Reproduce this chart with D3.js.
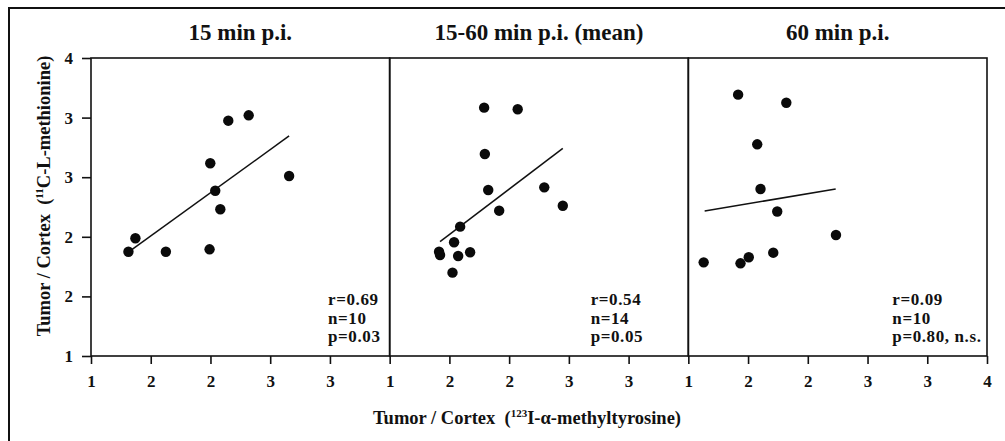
<!DOCTYPE html>
<html><head><meta charset="utf-8">
<script src="https://cdn.jsdelivr.net/npm/d3@7/dist/d3.min.js"></script>
<style>
body{margin:0;background:#fff}
svg{display:block}
text{font-family:"Liberation Serif","Times New Roman",serif;font-weight:bold;fill:#111}
</style>
</head><body><script>
// ---- data ----
const panelTitles = ["15 min p.i.", "15-60 min p.i. (mean)", "60 min p.i."];

const p1X = [1.376, 1.446, 1.752, 2.191, 2.248, 2.299, 2.198, 2.379, 2.584, 2.990];
const p1Y = [2.050, 2.185, 2.050, 2.074, 2.664, 2.477, 2.940, 3.369, 3.423, 2.812];

const p2X = [1.949, 2.286, 1.956, 1.990, 2.553, 2.739, 2.100, 1.708, 1.647, 1.496, 1.506, 1.688, 1.808, 1.631];
const p2Y = [3.500, 3.484, 3.034, 2.671, 2.698, 2.513, 2.463, 2.302, 2.145, 2.050, 2.017, 2.007, 2.044, 1.839];

const p3X = [1.500, 1.984, 1.692, 1.725, 1.893, 2.483, 1.853, 1.607, 1.524, 1.154];
const p3Y = [3.631, 3.550, 3.131, 2.681, 2.455, 2.218, 2.040, 1.994, 1.933, 1.943];

const fit1X = [1.41, 2.99], fit1Y = [2.07, 3.215];
const fit2X = [1.506, 2.739], fit2Y = [2.151, 3.091];
const fit3X = [1.164, 2.480], fit3Y = [2.460, 2.681];

const xTicks = [1, 1.6, 2.2, 2.8, 3.4];
const xTicksLast = [1, 1.6, 2.2, 2.8, 3.4, 4];
const yTicks = [1, 1.6, 2.2, 2.8, 3.4, 4];

const statR = ["r=0.69", "r=0.54", "r=0.09"];
const statN = ["n=10", "n=14", "n=10"];
const statP = ["p=0.03", "p=0.05", "p=0.80, n.s."];

// ---- layout ----
const W = 1005, H = 441;
const plotL = 91, plotR = 987, plotT = 58, plotB = 356;
const pw = (plotR - plotL) / 3;
const statOffset = [237, 201, 204];

const svg = d3.select("body").append("svg").attr("width", W).attr("height", H);

// outer frame
svg.append("rect").attr("x", 9).attr("y", 8).attr("width", 1100).attr("height", 600)
  .attr("fill", "none").attr("stroke", "#111").attr("stroke-width", 2);

const y = d3.scaleLinear().domain([1, 4]).range([plotB, plotT]);
const fmt = d3.format(".0f");

const panels = [
  {xs: p1X, ys: p1Y, fx: fit1X, fy: fit1Y},
  {xs: p2X, ys: p2Y, fx: fit2X, fy: fit2Y},
  {xs: p3X, ys: p3Y, fx: fit3X, fy: fit3Y}
];

// y axis
const yAxis = svg.append("g").attr("transform", `translate(${plotL},0)`)
  .call(d3.axisLeft(y).tickValues(yTicks).tickFormat(fmt).tickSizeInner(9).tickSizeOuter(0).tickPadding(9));
yAxis.select(".domain").remove();
yAxis.selectAll("line").attr("stroke", "#111").attr("stroke-width", 1.6);
yAxis.selectAll("text").style("font-size", "17px").style("font-family", '"Liberation Serif",serif').style("font-weight", "bold").attr("fill", "#111");

panels.forEach((p, i) => {
  const x0 = plotL + i * pw;
  const x = d3.scaleLinear().domain([1, 4]).range([x0, x0 + pw]);
  const g = svg.append("g");

  // frame
  g.append("rect").attr("x", x0).attr("y", plotT).attr("width", pw).attr("height", plotB - plotT)
    .attr("fill", "none").attr("stroke", "#111").attr("stroke-width", 1.6);

  // x axis
  const xa = g.append("g").attr("transform", `translate(0,${plotB})`)
    .call(d3.axisBottom(x).tickValues(i === 2 ? xTicksLast : xTicks).tickFormat(fmt)
      .tickSizeInner(8).tickSizeOuter(0).tickPadding(11));
  xa.select(".domain").remove();
  xa.selectAll("line").attr("stroke", "#111").attr("stroke-width", 1.6);
  xa.selectAll("text").style("font-size", "17px").style("font-family", '"Liberation Serif",serif').style("font-weight", "bold").attr("fill", "#111");

  // title
  g.append("text").attr("x", x0 + pw / 2).attr("y", 40).attr("text-anchor", "middle")
    .style("font-size", "23px").text(panelTitles[i]);

  // fit line
  g.append("line").attr("x1", x(p.fx[0])).attr("y1", y(p.fy[0]))
    .attr("x2", x(p.fx[1])).attr("y2", y(p.fy[1]))
    .attr("stroke", "#111").attr("stroke-width", 1.5);

  // points
  g.selectAll("circle").data(d3.range(p.xs.length)).enter().append("circle")
    .attr("cx", k => x(p.xs[k])).attr("cy", k => y(p.ys[k])).attr("r", 5.2).attr("fill", "#0a0a0a");

  // stats
  const st = g.append("text").attr("x", x0 + statOffset[i]).attr("y", 305)
    .style("font-size", "17px").style("letter-spacing", "0.6px");
  [statR[i], statN[i], statP[i]].forEach((s, k) => {
    st.append("tspan").attr("x", x0 + statOffset[i]).attr("y", 305 + k * 18.5).text(s);
  });
});

// x axis title
const xt = svg.append("text").attr("x", 527).attr("y", 424).attr("text-anchor", "middle")
  .style("font-size", "18.5px").style("white-space", "pre");
xt.append("tspan").text("Tumor / Cortex  (");
xt.append("tspan").attr("dy", -7).style("font-size", "11px").text("123");
xt.append("tspan").attr("dy", 7).text("I-α-methyltyrosine)");

// y axis title
const yt = svg.append("text").attr("transform", "translate(50,196) rotate(-90)").attr("text-anchor", "middle")
  .style("font-size", "18.5px").style("white-space", "pre");
yt.append("tspan").text("Tumor / Cortex  (");
yt.append("tspan").attr("dy", -7).style("font-size", "11px").text("11");
yt.append("tspan").attr("dy", 7).text("C-L-methionine)");
</script></body></html>
